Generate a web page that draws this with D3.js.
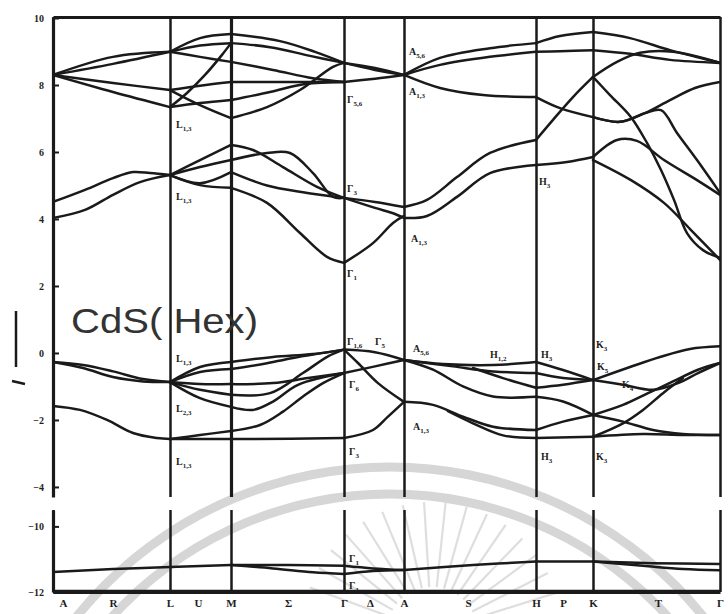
<!DOCTYPE html>
<html>
<head>
<meta charset="utf-8">
<script src="https://cdn.jsdelivr.net/npm/d3@7"></script>
<style>
  body { margin: 0; background: #fff; }
  .ticklbl text { font: bold 10px "Liberation Serif", serif; fill: #1e1e1e; }
  .klbl text { font: bold 11px "Liberation Serif", serif; fill: #1e1e1e; }
  .symlbl { font: bold 10px "Liberation Serif", serif; fill: #1e1e1e; }
</style>
</head>
<body>
<svg id="chart" width="728" height="614"></svg>
<script>
// high symmetry points along the path (k in path units)
const kPos = [0, 1.17, 1.78, 2.91, 3.51, 4.83, 5.40, 6.67];

// labels under the frame
const kLabels   = ["A", "R", "L", "U", "M", "Σ", "Γ", "Δ", "A", "S", "H", "P", "K", "T", "Γ"];
const kLabelPos = [0.10, 0.60, 1.17, 1.45, 1.78, 2.35, 2.91, 3.17, 3.51, 4.15, 4.83, 5.10, 5.40, 6.05, 6.67];

// energy ticks (eV)
const yTicksUpper = [10, 8, 6, 4, 2, 0, -2, -4];
const yTicksLower = [-10, -12];

// conduction bands, [k, E]
const conductionBands = [
  [[0,8.30],[0.60,8.84],[1.17,8.99],[1.47,9.40],[1.78,9.52],[2.27,9.31],[2.62,8.99],[2.91,8.66],[3.22,8.51],[3.51,8.30],[3.87,8.81],[4.37,9.10],[4.83,9.25],[5.07,9.46],[5.40,9.58],[5.77,9.40],[6.17,9.04],[6.47,8.81],[6.67,8.66]],
  [[0,8.30],[0.60,8.63],[1.17,8.99],[1.47,9.18],[1.78,9.25],[2.17,9.13],[2.57,8.87],[2.91,8.66],[3.22,8.45],[3.51,8.30],[3.87,8.60],[4.37,8.84],[4.83,8.99],[5.07,9.01],[5.40,9.04],[5.77,8.93],[6.17,8.75],[6.67,8.66]],
  [[0,8.30],[0.60,8.06],[1.17,7.85],[1.47,7.98],[1.78,8.09],[2.35,8.09],[2.91,8.09],[3.22,8.19],[3.51,8.30],[3.87,7.91],[4.30,7.70],[4.83,7.64],[5.07,7.31],[5.40,7.04],[5.67,6.90],[5.92,7.16],[6.17,7.55],[6.42,7.91],[6.67,8.09]],
  [[0,8.30],[0.60,7.79],[1.17,7.34],[1.47,7.46],[1.78,7.55],[2.17,7.79],[2.52,8.03],[2.91,8.09]],
  [[1.17,7.85],[1.47,7.40],[1.78,7.01],[2.14,7.34],[2.47,7.85],[2.80,8.54],[2.91,8.66]],
  [[1.17,8.99],[1.47,8.84],[1.78,8.69],[2.20,8.45],[2.60,8.20],[2.91,8.09]],
  [[1.17,7.34],[1.34,7.76],[1.52,8.30],[1.69,8.90],[1.78,9.25]],
  [[5.40,8.24],[5.57,7.70],[5.78,7.04],[5.94,6.27],[6.08,5.46],[6.21,4.57],[6.34,3.58],[6.50,3.07],[6.67,2.84]],
  [[5.40,7.04],[5.67,6.90],[5.92,7.16],[6.08,7.25],[6.24,6.57],[6.44,5.76],[6.67,4.78]],
  // lower conduction bands
  [[0,4.51],[0.32,4.87],[0.60,5.22],[0.80,5.40],[0.97,5.37],[1.17,5.31],[1.47,5.76],[1.78,6.21],[2.00,6.06],[2.30,5.55],[2.64,4.96],[2.91,4.63],[3.22,4.51],[3.51,4.36],[3.74,4.57],[4.04,5.25],[4.37,5.97],[4.83,6.36],[5.00,6.96],[5.20,7.64],[5.40,8.24],[5.64,8.69],[5.87,8.96],[6.20,8.99],[6.67,8.66]],
  [[0,4.03],[0.32,4.27],[0.60,4.72],[0.87,5.10],[1.17,5.31],[1.47,5.55],[1.78,5.76],[2.14,5.97],[2.37,5.97],[2.60,5.37],[2.80,4.66],[2.91,4.63],[3.22,4.33],[3.42,4.15],[3.51,4.03],[3.74,4.09],[4.04,4.66],[4.37,5.37],[4.83,5.61],[5.14,5.70],[5.40,5.85],[5.64,6.36],[5.84,6.33],[6.11,5.76],[6.44,5.16],[6.67,4.72]],
  [[1.17,5.31],[1.47,5.07],[1.78,5.40],[2.14,5.00],[2.50,4.80],[2.91,4.63]],
  [[1.17,5.31],[1.47,5.01],[1.78,4.93],[2.14,4.48],[2.47,3.58],[2.74,2.87],[2.91,2.69],[3.20,3.28],[3.40,3.88],[3.51,4.09]],
  [[5.40,5.76],[5.78,5.16],[6.11,4.48],[6.38,3.67],[6.67,2.78]]
];

// valence bands, [k, E]
const valenceBands = [
  [[0,-0.27],[0.30,-0.36],[0.60,-0.55],[0.90,-0.78],[1.17,-0.87],[1.47,-0.42],[1.78,-0.27],[2.20,-0.12],[2.60,-0.03],[2.91,0.10],[3.22,0.02],[3.51,-0.21],[3.90,-0.33],[4.40,-0.36],[4.83,-0.27],[5.10,-0.51],[5.40,-0.81],[5.77,-0.42],[6.07,-0.12],[6.37,0.12],[6.67,0.20]],
  [[0,-0.27],[0.30,-0.45],[0.60,-0.72],[0.90,-0.85],[1.17,-0.87],[1.47,-0.57],[1.78,-0.48],[2.10,-0.33],[2.40,-0.15],[2.91,0.10],[3.05,-0.30],[3.25,-0.90],[3.51,-1.46],[3.80,-1.55],[4.10,-1.90],[4.40,-2.20],[4.83,-2.30],[5.10,-2.05],[5.40,-1.85],[5.70,-1.55],[5.95,-1.20],[6.20,-0.85],[6.45,-0.50],[6.67,-0.30]],
  [[1.17,-0.87],[1.47,-0.93],[1.78,-0.93],[2.20,-0.90],[2.55,-0.75],[2.91,-0.60],[3.22,-0.40],[3.51,-0.21],[3.80,-0.50],[4.10,-1.00],[4.40,-1.30],[4.83,-1.31],[5.10,-1.45],[5.40,-1.85],[5.70,-2.05],[6.00,-2.30],[6.30,-2.42],[6.67,-2.45]],
  [[1.17,-0.87],[1.47,-1.10],[1.78,-1.25],[2.17,-1.20],[2.50,-0.60],[2.75,-0.10],[2.91,0.10]],
  [[1.17,-0.87],[1.47,-1.35],[1.78,-1.61],[2.00,-1.70],[2.20,-1.45],[2.45,-0.95],[2.91,-0.60]],
  [[1.17,-2.57],[1.47,-2.45],[1.78,-2.33],[2.07,-2.15],[2.30,-1.75],[2.50,-1.30],[2.70,-0.90],[2.91,-0.60]],
  [[0,-1.58],[0.27,-1.70],[0.54,-2.00],[0.80,-2.39],[1.04,-2.54],[1.17,-2.57],[2.00,-2.57],[2.91,-2.54],[3.20,-2.30],[3.35,-1.90],[3.51,-1.46]],
  [[3.95,-1.74],[4.20,-2.10],[4.50,-2.46],[4.83,-2.54],[5.40,-2.50],[5.90,-2.42],[6.30,-2.45],[6.67,-2.45]],
  [[5.40,-2.50],[5.70,-2.10],[5.90,-1.70],[6.10,-1.20],[6.30,-0.75]],
  [[3.51,-0.21],[4.00,-0.40],[4.40,-0.55],[4.83,-0.60],[5.10,-0.75],[5.40,-0.81],[5.70,-0.95],[6.00,-1.10],[6.25,-0.90],[6.45,-0.60],[6.67,-0.30]],
  [[4.20,-0.45],[4.50,-0.75],[4.83,-1.04],[5.10,-0.95],[5.40,-0.81]]
];

// S 3s like bands, lower panel
const semicoreBands = [
  [[0,-11.39],[0.60,-11.30],[1.17,-11.24],[1.78,-11.18],[2.35,-11.18],[2.91,-11.20],[3.20,-11.28],[3.51,-11.33],[4.20,-11.18],[4.83,-11.07],[5.40,-11.07],[6.00,-11.12],[6.67,-11.15]],
  [[1.78,-11.18],[2.20,-11.28],[2.60,-11.40],[2.91,-11.45],[3.20,-11.36],[3.51,-11.33]],
  [[5.40,-11.07],[5.90,-11.20],[6.30,-11.30],[6.67,-11.34]],
  [[0,-11.97],[2.91,-11.97],[6.67,-11.97]]
];

// point labels: [letter, subscript, k, E]
const upperLabels = [
  ["L","1,3",1.23,6.72], ["L","1,3",1.23,4.57],
  ["Γ","5,6",2.94,7.46], ["Γ","3",2.94,4.81], ["Γ","1",2.94,2.27],
  ["A","5,6",3.56,8.90], ["A","1,3",3.56,7.70], ["H","3",4.86,5.01], ["A","1,3",3.58,3.31],
  ["L","1,3",1.23,-0.27], ["L","2,3",1.23,-1.76], ["L","1,3",1.23,-3.34],
  ["Γ","1,6",2.94,0.24], ["Γ","5",3.22,0.24], ["Γ","6",2.96,-1.04], ["Γ","3",2.96,-3.04],
  ["A","5,6",3.60,0.03], ["A","1,3",3.60,-2.30],
  ["H","1,2",4.37,-0.15], ["H","3",4.88,-0.15],
  ["K","3",5.43,0.15], ["K","5",5.44,-0.51], ["K","4",5.69,-1.04],
  ["H","3",4.88,-3.19], ["K","3",5.43,-3.19]
];
const lowerLabels = [["Γ","1",2.96,-11.09], ["Γ","1",2.96,-11.90]];

const svg = d3.select("#chart");
const x = d3.scaleLinear().domain([0, 6.67]).range([53, 720]);
const yUp = d3.scaleLinear().domain([-4.3, 10.03]).range([497, 17]);
const yLow = d3.scaleLinear().domain([-12, -9.5]).range([592, 510]);

const ink = "#1a1a1a";

// watermark (faint arcs and rays behind the plot)
const wm = svg.append("g").attr("transform", "translate(390,870)");
[403, 376].forEach(r => {
  wm.append("path")
    .attr("d", d3.arc().innerRadius(r - 4.5).outerRadius(r + 4.5).startAngle(-Math.PI / 2).endAngle(Math.PI / 2))
    .attr("fill", "#d6d6d6");
});
const rays = svg.append("g").attr("transform", "translate(432,632)");
d3.range(16).forEach(i => {
  const a = (-160 + i * 9.5) * Math.PI / 180;
  rays.append("line")
    .attr("x1", 45 * Math.cos(a)).attr("y1", 45 * Math.sin(a))
    .attr("x2", 130 * Math.cos(a)).attr("y2", 130 * Math.sin(a))
    .attr("stroke", "#dedede").attr("stroke-width", 2.2);
});

// clip paths for the two panels
const defs = svg.append("defs");
defs.append("clipPath").attr("id", "clipUp").append("rect")
  .attr("x", 53).attr("y", 17).attr("width", 667).attr("height", 480);
defs.append("clipPath").attr("id", "clipLow").append("rect")
  .attr("x", 53).attr("y", 508).attr("width", 667).attr("height", 84);

// symmetry lines
svg.append("g").attr("transform", "translate(0,497)")
  .call(d3.axisBottom(x).tickValues(kPos).tickSize(-480).tickFormat(""))
  .call(g => g.select(".domain").remove())
  .selectAll("line").attr("stroke", ink).attr("stroke-width", (d, i) => i == 2 ? 3.2 : 2.5);
svg.append("g").attr("transform", "translate(0,592)")
  .call(d3.axisBottom(x).tickValues(kPos).tickSize(-82).tickFormat(""))
  .call(g => g.select(".domain").remove())
  .selectAll("line").attr("stroke", ink).attr("stroke-width", 2.5);

// top border
svg.append("g").attr("transform", "translate(0,17)")
  .call(d3.axisTop(x).tickValues([]).tickSizeOuter(0))
  .select(".domain").attr("stroke", ink).attr("stroke-width", 2.8);

// bottom border + k labels
svg.append("g").attr("class", "klbl").attr("transform", "translate(0,592)")
  .call(d3.axisBottom(x).tickValues(kLabelPos).tickFormat((d, i) => kLabels[i]).tickSize(0).tickSizeOuter(0).tickPadding(7))
  .call(g => g.select(".domain").attr("stroke", ink).attr("stroke-width", 2.8));

// left axes
svg.append("g").attr("class", "ticklbl").attr("transform", "translate(53,0)")
  .call(d3.axisLeft(yUp).tickValues(yTicksUpper).tickFormat(d3.format("d")).tickSize(-6).tickSizeOuter(0).tickPadding(9))
  .call(g => g.select(".domain").attr("stroke", ink).attr("stroke-width", 3.2))
  .call(g => g.selectAll(".tick line").attr("stroke", ink).attr("stroke-width", 2));
svg.append("g").attr("class", "ticklbl").attr("transform", "translate(53,0)")
  .call(d3.axisLeft(yLow).tickValues(yTicksLower).tickFormat(d3.format("d")).tickSize(-6).tickSizeOuter(0).tickPadding(9))
  .call(g => g.select(".domain").attr("stroke", ink).attr("stroke-width", 3.2))
  .call(g => g.selectAll(".tick line").attr("stroke", ink).attr("stroke-width", 2));

// split a band at the symmetry points so the kinks stay sharp
function splitAtSymmetry(band) {
  const segs = [];
  let cur = [band[0]];
  for (let i = 1; i < band.length; i++) {
    cur.push(band[i]);
    if (i < band.length - 1 && kPos.some(k => Math.abs(k - band[i][0]) < 1e-6)) {
      segs.push(cur);
      cur = [band[i]];
    }
  }
  segs.push(cur);
  return segs;
}

function drawBands(bands, y, clipId) {
  const line = d3.line()
    .x(d => x(d[0]))
    .y(d => y(d[1]))
    .curve(d3.curveCatmullRom.alpha(0.5));
  svg.append("g").attr("clip-path", "url(#" + clipId + ")")
    .selectAll("path")
    .data(bands.flatMap(splitAtSymmetry))
    .join("path")
    .attr("d", line)
    .attr("fill", "none")
    .attr("stroke", ink)
    .attr("stroke-width", 2.5)
    .attr("stroke-linejoin", "round")
    .attr("stroke-linecap", "round");
}

drawBands(conductionBands, yUp, "clipUp");
drawBands(valenceBands, yUp, "clipUp");
drawBands(semicoreBands, yLow, "clipLow");

// symmetry point labels
function drawLabels(labels, y) {
  const t = svg.append("g").selectAll("text")
    .data(labels)
    .join("text")
    .attr("class", "symlbl")
    .attr("x", d => x(d[2]))
    .attr("y", d => y(d[3]));
  t.append("tspan").text(d => d[0]);
  t.append("tspan").attr("dy", 3).attr("font-size", 7).text(d => d[1]);
}
drawLabels(upperLabels, yUp);
drawLabels(lowerLabels, yLow);

// title
svg.append("text")
  .attr("x", 71).attr("y", 333)
  .attr("textLength", 187).attr("lengthAdjust", "spacingAndGlyphs")
  .style("font", "35px 'Liberation Sans', Arial, sans-serif")
  .attr("fill", "#333")
  .text("CdS( Hex)");

// scale bar mark on the left
svg.append("line").attr("x1", 16).attr("y1", 311).attr("x2", 16).attr("y2", 367)
  .attr("stroke", ink).attr("stroke-width", 2.5);
svg.append("line").attr("x1", 12).attr("y1", 381).attr("x2", 25).attr("y2", 384)
  .attr("stroke", ink).attr("stroke-width", 2.5);
</script>
</body>
</html>
